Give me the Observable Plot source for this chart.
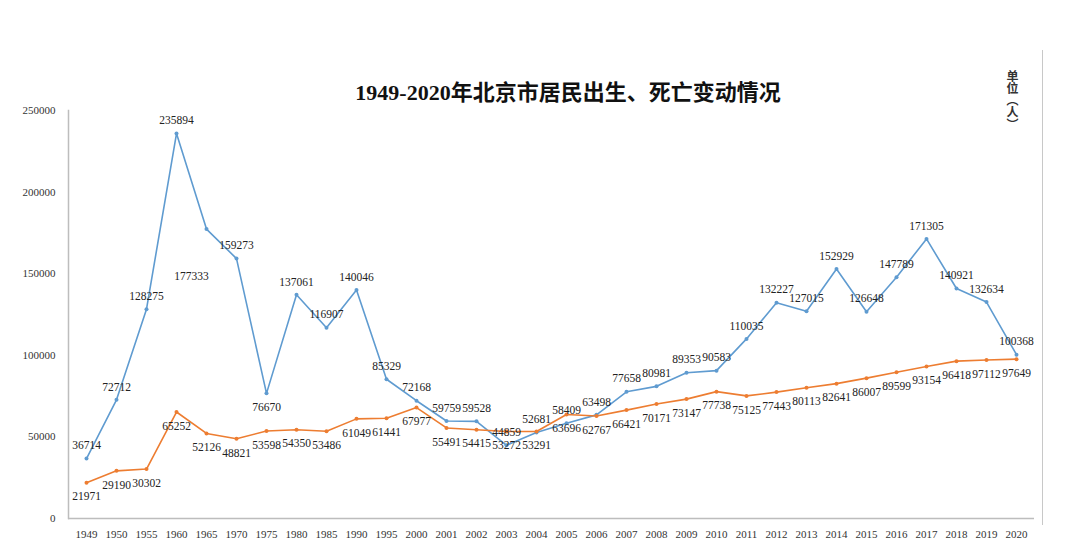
<!DOCTYPE html>
<html><head><meta charset="utf-8">
<script src="https://cdn.jsdelivr.net/npm/d3@7"></script>
<script src="https://cdn.jsdelivr.net/npm/@observablehq/plot@0.6"></script>
<style>
body{margin:0;background:#fff;width:1080px;height:556px;position:relative;overflow:hidden}
#title{position:absolute;left:0;width:1136px;top:74px;text-align:center;font:bold 22px "Liberation Serif","Noto Sans CJK SC",serif;color:#111;letter-spacing:0px}
#unit{position:absolute;left:1004px;top:70px;writing-mode:vertical-rl;font:12px "Noto Sans CJK SC",sans-serif;color:#333;font-weight:bold}
#border{position:absolute;left:1042px;top:50px;height:475px;border-left:1.5px solid #c8c8c8}
#chart{position:absolute;left:0;top:0}
</style></head><body>
<div id="title">1949-2020年北京市居民出生、死亡变动情况</div>
<div id="unit">单位（人）</div>
<div id="border"></div>
<div id="chart"></div>
<script>
const years = ["1949","1950","1955","1960","1965","1970","1975","1980","1985","1990","1995","2000","2001","2002","2003","2004","2005","2006","2007","2008","2009","2010","2011","2012","2013","2014","2015","2016","2017","2018","2019","2020"];
const births = [36714,72712,128275,235894,177333,159273,76670,137061,116907,140046,85329,72168,59759,59528,44859,52681,58409,63498,77658,80981,89353,90583,110035,132227,127015,152929,126648,147789,171305,140921,132634,100368];
const deaths = [21971,29190,30302,65252,52126,48821,53598,54350,53486,61049,61441,67977,55491,54415,53272,53291,63696,62767,66421,70171,73147,77738,75125,77443,80113,82641,86007,89599,93154,96418,97112,97649];
const yTicks = [0,50000,100000,150000,200000,250000];

const blue = "#5f9bd0", orange = "#ed7d31";
const birthRows = years.map((y,i)=>({year:y, v:births[i], s:"出生"}));
const deathRows = years.map((y,i)=>({year:y, v:deaths[i], s:"死亡"}));

// label placement (style): births above, deaths below, a few exceptions
const birthBelow = new Set(["1965","1975"]);
const birthDy = d => d.year==="1965" ? 47 : (birthBelow.has(d.year) ? 14 : -13);

const plot = Plot.plot({
  width:1080, height:556,
  marginLeft:68, marginRight:46, marginTop:110, marginBottom:38,
  style:{fontFamily:"'Liberation Serif',serif", fontSize:"11px", background:"transparent", color:"#333"},
  x:{type:"point", domain:years, padding:0.5, label:null, tickSize:0, tickPadding:12},
  y:{domain:[0,250000], ticks:yTicks, tickFormat:d=>String(d), label:null, tickSize:0, tickPadding:13},
  marks:[
    Plot.frame({anchor:"left", stroke:"#bdbdbd", strokeWidth:1.5}),
    Plot.ruleY([0], {stroke:"#bdbdbd", strokeWidth:1.5}),
    Plot.line(birthRows, {x:"year", y:"v", stroke:blue, strokeWidth:1.6}),
    Plot.line(deathRows, {x:"year", y:"v", stroke:orange, strokeWidth:1.6}),
    Plot.dot(birthRows, {x:"year", y:"v", r:2, fill:blue}),
    Plot.dot(deathRows, {x:"year", y:"v", r:2, fill:orange}),
    Plot.text(birthRows.filter(d=>d.year!=="1965" && d.year!=="1975"), {x:"year", y:"v", text:d=>String(d.v), dy:-13, fill:"#222", fontSize:11.5}),
    Plot.text(birthRows.filter(d=>d.year==="1975"), {x:"year", y:"v", text:d=>String(d.v), dy:14, fill:"#222", fontSize:11.5}),
    Plot.text(birthRows.filter(d=>d.year==="1965"), {x:"year", y:"v", text:d=>String(d.v), dy:47, dx:-15, fill:"#222", fontSize:11.5}),
    Plot.text(deathRows, {x:"year", y:"v", text:d=>String(d.v), dy:14, fill:"#222", fontSize:11.5})
  ]
});
document.getElementById("chart").appendChild(plot);
</script>
</body></html>
